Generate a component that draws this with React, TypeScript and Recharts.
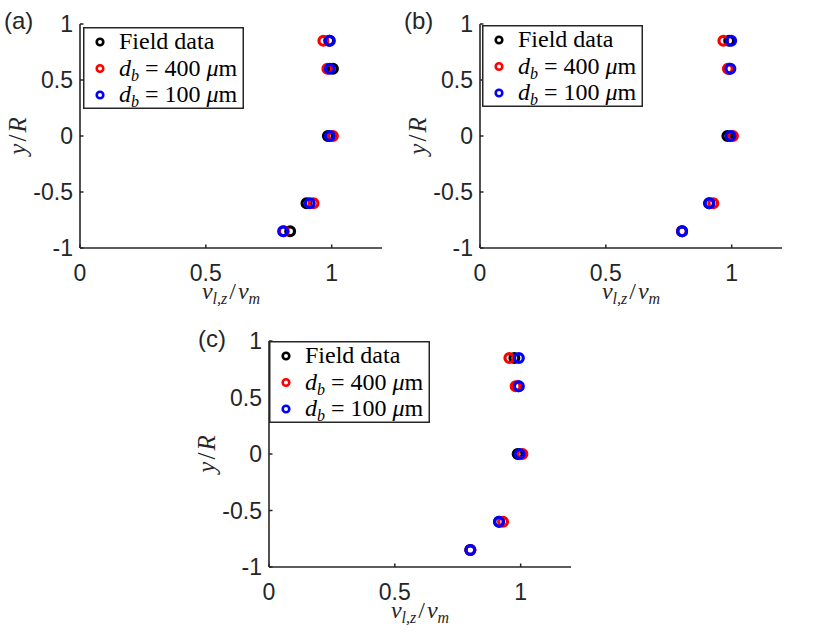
import React from 'react'
import { ScatterChart, Scatter, XAxis, YAxis, Legend } from 'recharts'

// radial positions shared by every panel
const yLevels = [0.85, 0.6, 0, -0.6, -0.85]
const xTicks = [0, 0.5, 1]
const yTicks = [-1, -0.5, 0, 0.5, 1]

// panel (a)
const fieldA = [0.99, 1.005, 0.985, 0.9, 0.835]
const d400A = [0.967, 0.983, 1.005, 0.928, 0.81]
const d100A = [0.993, 0.993, 0.993, 0.913, 0.807]

// panel (b)
const fieldB = [0.99, 0.99, 0.983, 0.91, 0.803]
const d400B = [0.967, 0.985, 1.005, 0.927, 0.803]
const d100B = [0.998, 0.995, 0.995, 0.912, 0.803]

// panel (c)
const fieldC = [0.975, 0.99, 0.988, 0.914, 0.8]
const d400C = [0.955, 0.98, 1.007, 0.93, 0.8]
const d100C = [0.993, 0.993, 0.996, 0.914, 0.8]

const seriesNames = ['Field data', 'd_b = 400 μm', 'd_b = 100 μm']
const seriesColors = ['#000000', '#ff0000', '#0000ff']

const AXIS = '#262626'
const SANS = '"Liberation Sans", Arial, sans-serif'
const SERIF = '"Liberation Serif", "Times New Roman", serif'
const NB = '\u00A0'

const toPoints = (xs: number[]) => xs.map((x, i) => ({ x, y: yLevels[i] }))

const fmt = (v: number) => String(v)

const BottomTick = (props: any) => {
  const { x, y, payload } = props
  return (
    <g>
      <line x1={x} x2={x} y1={y} y2={y - 3.5} stroke={AXIS} strokeWidth={1.5} />
      <text x={x} y={y + 33} textAnchor="middle" fontFamily={SANS} fontSize={23} fill={AXIS}>
        {fmt(payload.value)}
      </text>
    </g>
  )
}

const TopTick = (props: any) => {
  const { x, y } = props
  return <line x1={x} x2={x} y1={y} y2={y + 3.5} stroke={AXIS} strokeWidth={1.5} />
}

const LeftTick = (props: any) => {
  const { x, y, payload } = props
  return (
    <g>
      <line x1={x} x2={x + 3.5} y1={y} y2={y} stroke={AXIS} strokeWidth={1.5} />
      <text x={x - 7} y={y + 8} textAnchor="end" fontFamily={SANS} fontSize={23} fill={AXIS}>
        {fmt(payload.value)}
      </text>
    </g>
  )
}

const RightTick = (props: any) => {
  const { x, y } = props
  return <line x1={x} x2={x - 3.5} y1={y} y2={y} stroke={AXIS} strokeWidth={1.5} />
}

const XTitle = (props: any) => {
  const { x, y, width } = props.viewBox
  return (
    <text x={x + width / 2} y={y + 51} textAnchor="middle" fontFamily={SERIF} fontSize={24} fill={AXIS}>
      <tspan fontStyle="italic">v</tspan>
      <tspan fontStyle="italic" fontSize={16} dy={5}>l,z</tspan>
      <tspan dy={-5} dx={2}>/</tspan>
      <tspan fontStyle="italic" dx={2}>v</tspan>
      <tspan fontStyle="italic" fontSize={16} dy={5}>m</tspan>
    </text>
  )
}

const YTitle = (props: any) => {
  const { y, height } = props.viewBox
  const cx = 26
  const cy = y + height / 2
  return (
    <text
      x={cx}
      y={cy}
      transform={`rotate(-90, ${cx}, ${cy})`}
      textAnchor="middle"
      fontFamily={SERIF}
      fontSize={25}
      fill={AXIS}
    >
      <tspan fontStyle="italic">y</tspan>
      <tspan dx={2}>/</tspan>
      <tspan fontStyle="italic" dx={2}>R</tspan>
    </text>
  )
}

const LegendLabel = ({ name }: { name: string }) => {
  if (!name.startsWith('d_b')) return <>{name}</>
  const value = name.replace('d_b = ', '').replace(' μm', '')
  return (
    <>
      <tspan fontStyle="italic">d</tspan>
      <tspan fontSize={16} fontStyle="italic" dy={5}>b</tspan>
      <tspan dy={-5}>{`${NB}=${NB}${value}${NB}`}</tspan>
      <tspan fontStyle="italic">μ</tspan>
      <tspan>m</tspan>
    </>
  )
}

const LegendBox = () => (
  <svg width={161} height={82} style={{ display: 'block' }}>
    <rect x={0.75} y={0.75} width={159.5} height={80.5} fill="#ffffff" stroke={AXIS} strokeWidth={1.5} />
    {seriesNames.map((name, i) => {
      const cy = 15 + i * 26.5
      return (
        <g key={name}>
          <circle cx={17} cy={cy} r={3.3} fill="none" stroke={seriesColors[i]} strokeWidth={2.6} />
          <text x={36} y={cy + 7} fontFamily={SERIF} fontSize={24} fill="#000">
            <LegendLabel name={name} />
          </text>
        </g>
      )
    })}
  </svg>
)

const ringShape = (color: string) => (props: any) =>
  <circle cx={props.cx} cy={props.cy} r={4.4} fill="none" stroke={color} strokeWidth={3.2} />

interface PanelProps {
  left: number
  top: number
  plotHeight: number
  legendX: number
  legendY: number
  series: number[][]
}

function Panel({ left, top, plotHeight, legendX, legendY, series }: PanelProps) {
  return (
    <div style={{ position: 'absolute', left, top }}>
      <ScatterChart width={392} height={24 + plotHeight + 62} margin={{ top: 24, right: 10, left: 0, bottom: 0 }}>
        <XAxis
          xAxisId="b"
          type="number"
          dataKey="x"
          domain={[0, 1.2]}
          allowDataOverflow
          ticks={xTicks}
          orientation="bottom"
          height={62}
          tickSize={0}
          tickMargin={0}
          tickLine={false}
          tick={<BottomTick />}
          axisLine={{ stroke: AXIS, strokeWidth: 1.6 }}
          label={{ content: (p: any) => <XTitle {...p} /> }}
        />
        <XAxis
          xAxisId="t"
          type="number"
          dataKey="x"
          domain={[0, 1.2]}
          allowDataOverflow
          ticks={xTicks}
          orientation="top"
          height={0}
          tickSize={0}
          tickMargin={0}
          tickLine={false}
          tick={<TopTick />}
          axisLine={{ stroke: AXIS, strokeWidth: 1.6 }}
        />
        <YAxis
          yAxisId="l"
          type="number"
          dataKey="y"
          domain={[-1, 1]}
          allowDataOverflow
          ticks={yTicks}
          width={80}
          tickSize={0}
          tickMargin={0}
          tickLine={false}
          tick={<LeftTick />}
          axisLine={{ stroke: AXIS, strokeWidth: 1.6 }}
          label={{ content: (p: any) => <YTitle {...p} /> }}
        />
        <YAxis
          yAxisId="r"
          type="number"
          dataKey="y"
          domain={[-1, 1]}
          allowDataOverflow
          ticks={yTicks}
          orientation="right"
          width={0}
          tickSize={0}
          tickMargin={0}
          tickLine={false}
          tick={<RightTick />}
          axisLine={{ stroke: AXIS, strokeWidth: 1.6 }}
        />
        <Legend
          layout="vertical"
          align="center"
          verticalAlign="middle"
          content={() => <LegendBox />}
          wrapperStyle={{ left: 80 + legendX, top: 24 + legendY, width: 161, height: 82 }}
        />
        {series.map((xs, i) => (
          <Scatter
            key={seriesNames[i]}
            name={seriesNames[i]}
            xAxisId="b"
            yAxisId="l"
            data={toPoints(xs)}
            fill={seriesColors[i]}
            shape={ringShape(seriesColors[i])}
            isAnimationActive={false}
          />
        ))}
      </ScatterChart>
    </div>
  )
}

const tagStyle: React.CSSProperties = {
  position: 'absolute',
  fontFamily: SANS,
  fontSize: 24,
  color: AXIS,
  lineHeight: '24px',
}

export default function App() {
  return (
    <div style={{ position: 'absolute', left: 0, top: 0, width: 822, height: 634, background: '#fff' }}>
      <Panel left={0} top={0} plotHeight={224} legendX={2.5} legendY={3} series={[fieldA, d400A, d100A]} />
      <Panel left={400} top={0} plotHeight={224} legendX={1.5} legendY={1} series={[fieldB, d400B, d100B]} />
      <Panel left={189} top={317} plotHeight={226} legendX={0} legendY={0} series={[fieldC, d400C, d100C]} />
      <div style={{ ...tagStyle, left: 4, top: 9 }}>(a)</div>
      <div style={{ ...tagStyle, left: 404, top: 9 }}>(b)</div>
      <div style={{ ...tagStyle, left: 198, top: 327 }}>(c)</div>
    </div>
  )
}
